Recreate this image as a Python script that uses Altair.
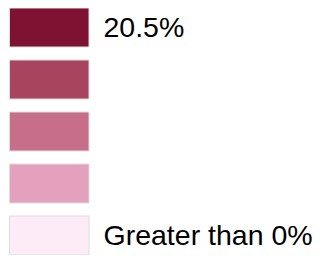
import altair as alt
import pandas as pd

ranks = [0, 1, 2, 3, 4]
colors = ["#7f1232", "#a9445e", "#c66e8a", "#e4a1bd", "#fdebf8"]
labels = ["20.5%", "", "", "", "Greater than 0%"]

df = pd.DataFrame({"rank": ranks, "color": colors, "label": labels})
base = alt.Chart(df)
yscale = alt.Scale(paddingInner=0.25, paddingOuter=0)

rects = base.mark_rect(stroke="#dddddd", strokeWidth=1).encode(
    y=alt.Y("rank:O", axis=None, scale=yscale),
    x=alt.value(1.5),
    x2=alt.value(81),
    color=alt.Color("color:N", scale=None, legend=None),
)
text = base.mark_text(
    align="left", baseline="middle", fontSize=28.5, font="Liberation Sans", color="black"
).encode(
    y=alt.Y("rank:O", axis=None, scale=yscale),
    x=alt.value(95.5),
    text="label:N",
)

chart = (
    alt.layer(rects, text)
    .properties(width=307, height=247, padding=0, autosize="none")
    .configure_view(stroke=None)
)
chart.save("out.html", embed_options={"renderer": "svg", "actions": False})
